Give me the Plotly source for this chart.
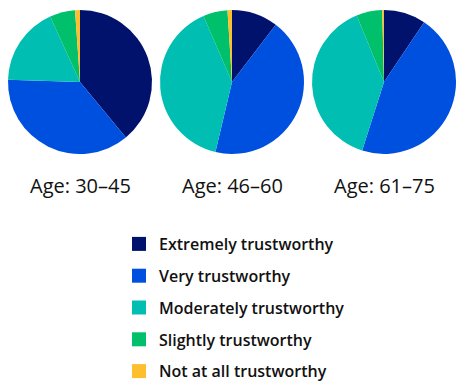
import plotly.graph_objects as go

# Survey shares (%) of trust rating by age group
categories = ["Extremely trustworthy", "Very trustworthy", "Moderately trustworthy",
              "Slightly trustworthy", "Not at all trustworthy"]
age_groups = ["Age: 30–45", "Age: 46–60", "Age: 61–75"]
age_30_45 = [39.0, 36.5, 17.7, 5.7, 1.1]
age_46_60 = [10.4, 43.3, 39.8, 5.5, 1.0]
age_61_75 = [9.4, 45.5, 38.9, 5.8, 0.4]
colors = ["#00126b", "#0050e0", "#00bfb2", "#00c06c", "#fdbf2d"]

W, H = 456, 383
series = [age_30_45, age_46_60, age_61_75]
centers_x = [80, 232, 384]
cy, r = 82, 72

fig = go.Figure()
for i, (vals, cx) in enumerate(zip(series, centers_x)):
    fig.add_trace(go.Pie(
        labels=categories, values=vals, sort=False, direction="clockwise",
        rotation=0, textinfo="none", hoverinfo="label+percent",
        marker=dict(colors=colors, line=dict(width=0)),
        domain=dict(x=[(cx - r) / W, (cx + r) / W],
                    y=[1 - (cy + r) / H, 1 - (cy - r) / H]),
        showlegend=False, name=age_groups[i],
    ))
    fig.add_annotation(text=age_groups[i], x=cx / W, y=1 - 185 / H,
                       xref="paper", yref="paper", showarrow=False,
                       xanchor="center", yanchor="middle",
                       font=dict(family="Open Sans", size=20, color="#111111"))

# Legend entries as square markers
for name, col in zip(categories, colors):
    fig.add_trace(go.Scatter(
        x=[None], y=[None], mode="markers", name=name, legendgroup=name,
        marker=dict(symbol="square", size=14, color=col),
    ))

fig.update_layout(
    width=W, height=H, margin=dict(l=0, r=0, t=0, b=0, autoexpand=False),
    paper_bgcolor="white", plot_bgcolor="white",
    xaxis=dict(visible=False), yaxis=dict(visible=False),
    legend=dict(x=119 / W, y=1 - 227 / H, xanchor="left", yanchor="top",
                xref="container", yref="container",
                traceorder="grouped", tracegroupgap=8, itemsizing="trace",
                font=dict(family="Open Sans", size=16, color="#111111", weight=600),
                bgcolor="rgba(0,0,0,0)"),
)

fig.write_html("out.html")
